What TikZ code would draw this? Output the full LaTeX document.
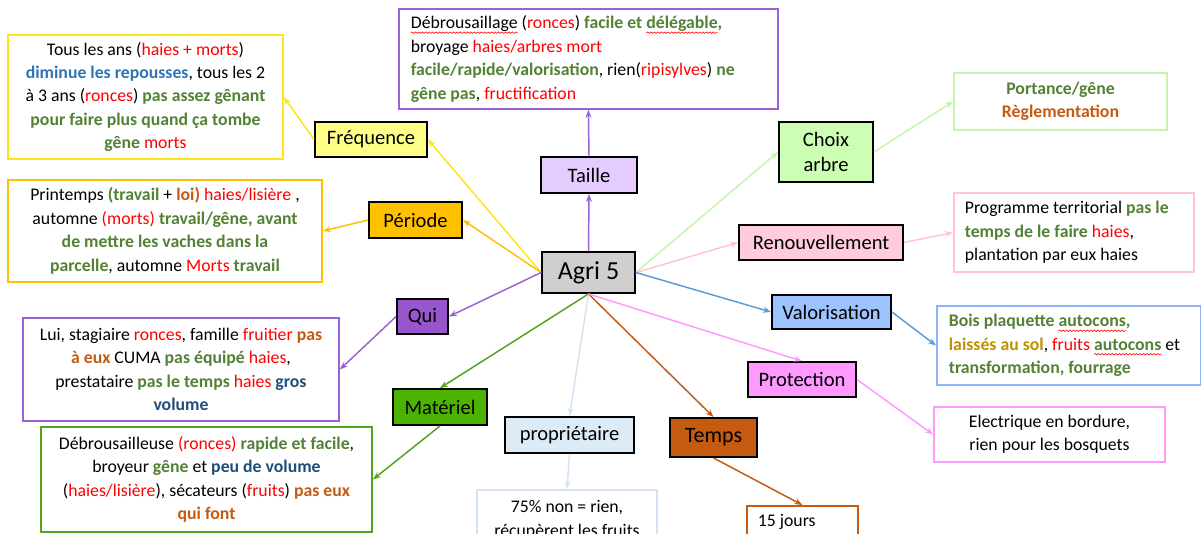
\documentclass[tikz,border=0pt]{standalone}
\usepackage{fontspec}
\setmainfont{Carlito}
\usetikzlibrary{arrows.meta,decorations.pathmorphing}

% text colours
\definecolor{cRed}{HTML}{FF0000}
\definecolor{cGreen}{HTML}{538135}
\definecolor{cBlue}{HTML}{2E75B6}
\definecolor{cNavy}{HTML}{1F4E79}
\definecolor{cBrown}{HTML}{C55A11}
\definecolor{cGold}{HTML}{BF9000}
% branch colours
\definecolor{lnYellow}{HTML}{FFE41A}
\definecolor{lnOrange}{HTML}{FFC000}
\definecolor{lnPurple}{HTML}{9B62D8}
\definecolor{lnGreen}{HTML}{52A31E}
\definecolor{lnSky}{HTML}{D3E3F4}
\definecolor{lnBrown}{HTML}{C55A11}
\definecolor{lnMagenta}{HTML}{FF99FF}
\definecolor{lnBlue}{HTML}{5B9BD5}
\definecolor{lnBlueBox}{HTML}{8EB4F5}
\definecolor{lnPink}{HTML}{FFC4D6}
\definecolor{lnLime}{HTML}{C4F5AE}
% category fills
\definecolor{fAgri}{HTML}{D0CECE}
\definecolor{fFreq}{HTML}{FFFF88}
\definecolor{fPeriode}{HTML}{FFC000}
\definecolor{fTaille}{HTML}{E5CCFF}
\definecolor{fQui}{HTML}{9955CC}
\definecolor{fMat}{HTML}{4CB400}
\definecolor{fProp}{HTML}{DDEBF7}
\definecolor{fTemps}{HTML}{C55A11}
\definecolor{fProt}{HTML}{FF99FF}
\definecolor{fValor}{HTML}{9DC3FF}
\definecolor{fRenouv}{HTML}{FFCCDD}
\definecolor{fChoix}{HTML}{CCFFB3}

\newcommand\txR[1]{\textcolor{cRed}{#1}}
\newcommand\txG[1]{\textcolor{cGreen}{\bfseries #1}}
\newcommand\txB[1]{\textcolor{cBlue}{\bfseries #1}}
\newcommand\txD[1]{\textcolor{cNavy}{\bfseries #1}}
\newcommand\txO[1]{\textcolor{cBrown}{\bfseries #1}}
\newcommand\txY[1]{\textcolor{cGold}{\bfseries #1}}
% red spell-check wave under a word
\newsavebox\wavybox
\newdimen\wavywd
\newcommand\wavy[1]{\sbox\wavybox{#1}\wavywd=\wd\wavybox
  \rlap{\tikz[x=1pt,y=1pt,baseline=0pt]{\path (0,0);
    \draw[overlay, cRed, line width=0.45pt, decorate,
          decoration={snake, amplitude=0.55pt, segment length=2.6pt}]
          (0,-3) -- (\wavywd,-3);}}\usebox\wavybox}

\newcommand\bodyfont{\fontsize{13.3}{17.6}\selectfont}
\newcommand\catfont{\fontsize{15.4}{18.8}\selectfont}

\begin{document}
\begin{tikzpicture}[x=0.75pt,y=-0.75pt,
  cat/.style={draw=black, line width=1.4pt, inner sep=0pt, align=center, font=\catfont},
  leaf/.style={line width=1.3pt, fill=white, inner sep=0pt, align=center, font=\bodyfont},
  leftleaf/.style={leaf, align=flush left},
  link/.style={line width=1.1pt, -{Stealth[length=6pt,width=4.5pt]}}]
\useasboundingbox (0,0) rectangle (1201,533);
\clip (0,0) rectangle (1201,533);
\fill[white] (0,0) rectangle (1201,533);

% centre and categories
\node[cat, fill=fAgri, minimum width=69.75pt, minimum height=30.75pt,
      font=\fontsize{19.5}{22}\selectfont] (agri) at (588.5,272.5) {Agri 5};
\node[cat, fill=fFreq, minimum width=84pt, minimum height=26.25pt] (freq) at (371,139.5) {Fréquence};
\node[cat, fill=fPeriode, minimum width=69.75pt, minimum height=27pt] (periode) at (415.5,220) {Période};
\node[cat, fill=fTaille, minimum width=72pt, minimum height=27pt] (taille) at (589,175) {Taille};
\node[cat, fill=fQui, minimum width=38.25pt, minimum height=26.25pt] (qui) at (422.5,316.5) {Qui};
\node[cat, fill=fMat, minimum width=70.5pt, minimum height=27pt] (mat) at (440,407) {Matériel};
\node[cat, fill=fProp, minimum width=96.75pt, minimum height=27pt] (prop) at (569.5,435) {propriétaire};
\node[cat, fill=fTemps, minimum width=65.25pt, minimum height=29.25pt,
      font=\fontsize{16.5}{20}\selectfont] (temps) at (713.5,437.5) {Temps};
\node[cat, fill=fProt, minimum width=81pt, minimum height=26.25pt] (prot) at (802,379.5) {Protection};
\node[cat, fill=fValor, minimum width=89.25pt, minimum height=25.5pt] (valor) at (831.5,312) {Valorisation};
\node[cat, fill=fRenouv, minimum width=123pt, minimum height=26.25pt] (renouv) at (821,242.5) {Renouvellement};
\node[cat, fill=fChoix, minimum width=70.5pt, minimum height=45pt] (choix) at (826,152) {Choix\\arbre};

% detail boxes
\node[leaf, draw=lnYellow, minimum width=206.25pt, minimum height=93pt] (freqL) at (145.5,97)
  {Tous les ans (\txR{haies + morts})\\
   \txB{diminue les repousses}, tous les 2\\
   à 3 ans (\txR{ronces}) \txG{pas assez gênant}\\
   \txG{pour faire plus quand ça tombe}\\
   \txG{gêne} \txR{morts}};
\node[leftleaf, draw=lnPurple, anchor=north west, inner xsep=9pt,
      text width=266.25pt, minimum height=75pt] (tailleL) at (398,8)
  {\wavy{Débrousaillage} (\txR{ronces}) \txG{facile et \wavy{délégable},}\\
   broyage \txR{haies/arbres mort}\\
   \txG{facile/rapide/valorisation}, rien(\txR{ripisylves}) \txG{ne}\\
   \txG{gêne pas}, \txR{fructification}};
\node[leaf, draw=lnOrange, minimum width=235.5pt, minimum height=76.5pt] (periodeL) at (165,231)
  {Printemps \txG{(travail} + \txO{loi)} \txR{haies/lisière} ,\\
   automne \txR{(morts)} \txG{travail/gêne, avant}\\
   \txG{de mettre les vaches dans la}\\
   \txG{parcelle}, automne \txR{Morts} \txG{travail}};
\node[leaf, draw=lnPurple, minimum width=237pt, minimum height=77.25pt] (quiL) at (181,369.5)
  {Lui, stagiaire \txR{ronces}, famille \txR{fruitier} \txO{pas}\\
   \txO{à eux} CUMA \txG{pas équipé} \txR{haies},\\
   prestataire \txG{pas le temps} \txR{haies} \txD{gros}\\
   \txD{volume}};
\node[leaf, draw=lnGreen, minimum width=248.25pt, minimum height=78.75pt] (matL) at (206.5,479.5)
  {Débrousailleuse \txR{(ronces)} \txG{rapide et facile},\\
   broyeur \txG{gêne} et \txD{peu de volume}\\
   (\txR{haies/lisière}), sécateurs (\txR{fruits}) \txO{pas eux}\\
   \txO{qui font}};
\node[leaf, draw=lnSky, anchor=north, minimum width=135pt, minimum height=44.6pt] (propL) at (567,489)
  {75\% non = rien,\\récupèrent les fruits};
\node[leftleaf, draw=lnBrown, anchor=north west, inner xsep=8.25pt,
      text width=66.75pt, minimum height=24pt] (tempsL) at (746,505)
  {15 jours};
\node[leaf, draw=lnMagenta, minimum width=173.25pt, minimum height=41.25pt] (protL) at (1049.5,434.5)
  {Electrique en bordure,\\rien pour les bosquets};
\node[leftleaf, draw=lnBlueBox, anchor=west, inner xsep=9pt,
      text width=180pt, minimum height=59.25pt] (valorL) at (936,345.5)
  {\txG{Bois plaquette \wavy{autocons},}\\
   \mbox{\txY{laissés au sol}, \txR{fruits} \txG{\wavy{autocons}} et}\\
   \txG{transformation, fourrage}};
\node[leftleaf, draw=lnPink, anchor=west, inner xsep=8.25pt,
      text width=163.5pt, minimum height=59.25pt] (renouvL) at (953,232.5)
  {Programme territorial \txG{pas le}\\
   \txG{temps de le faire} \txR{haies},\\
   plantation par eux haies};
\node[leaf, draw=lnLime, minimum width=159.75pt, minimum height=42.75pt] (choixL) at (1060.5,101.5)
  {\txG{Portance/gêne}\\\txO{Règlementation}};

% centre to categories
\draw[link, lnYellow]  (agri.west) -- (freq.east);
\draw[link, lnOrange]  (agri.west) -- (periode.east);
\draw[link, lnPurple]  (agri.west) -- (qui.east);
\draw[link, lnPurple]  (agri.north) -- (taille.south);
\draw[link, lnGreen]   (agri.south) -- (mat.north);
\draw[link, lnSky]     (agri.south) -- (prop.north);
\draw[link, lnBrown]   (agri.south) -- (temps.north);
\draw[link, lnMagenta] (agri.south) -- (prot.north);
\draw[link, lnLime]    (agri.east) -- (choix.west);
\draw[link, lnPink]    (agri.east) -- (renouv.west);
\draw[link, lnBlue]    (agri.east) -- (valor.west);

% categories to details
\draw[link, lnYellow]  (freq.west) -- (freqL.east);
\draw[link, lnOrange]  (periode.west) -- (periodeL.east);
\draw[link, lnPurple]  (taille.north) -- (tailleL.south);
\draw[link, lnPurple]  (qui.west) -- (quiL.east);
\draw[link, lnGreen]   (mat.south) -- (matL.east);
\draw[link, lnSky]     (prop.south) -- (propL.north);
\draw[link, lnBrown]   (temps.south) -- (tempsL.north);
\draw[link, lnMagenta] (prot.east) -- (protL.west);
\draw[link, lnBlue]    (valor.east) -- (valorL.west);
\draw[link, lnPink]    (renouv.east) -- (renouvL.west);
\draw[link, lnLime]    (choix.east) -- (choixL.west);
\end{tikzpicture}
\end{document}
